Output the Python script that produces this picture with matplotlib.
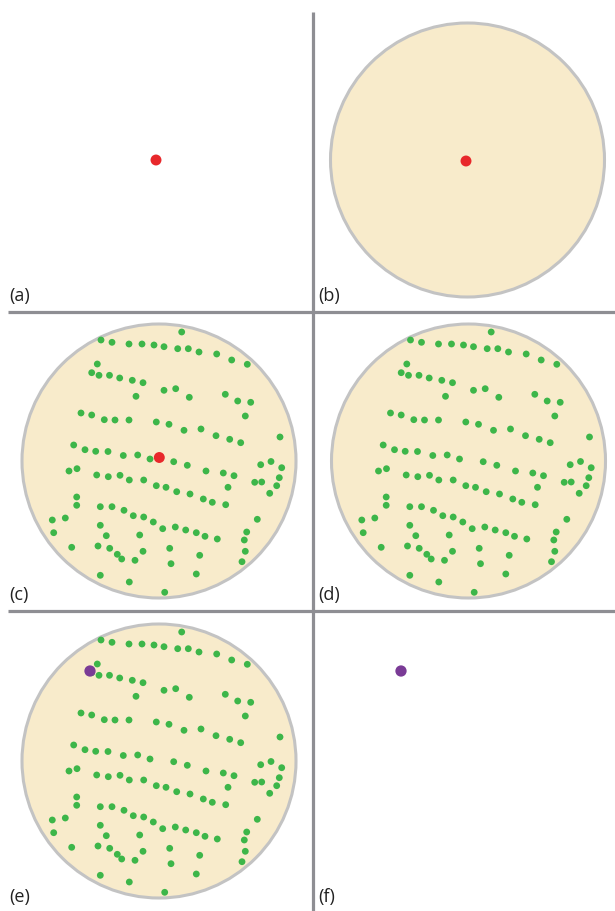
import matplotlib
matplotlib.use("Agg")
import matplotlib.pyplot as plt
from matplotlib.patches import Circle
import numpy as np

# ---- data: star field (offsets in px from the field-of-view centre, y downward) ----
star_dx = [-58, -47, -61.7, -67.3, -60, -49.5, -78, -67.3, -54.7, -44, -85.3, -74, -63.3, -51,
           22.7, -30, -17, -5, 5, 18.7, 29.3, 40, -39.3, -26.7, -16, 5, 16.7, 30.3, -23, -30,
           -2.7, 10, 25, 42, -35.7, -21.3, -9, 57.7, 72.7, 88.3, 66.3, 78.7, 91.7, 86.3, 57,
           70.7, 81.7, 121, 112, -90, -82, -62.3, -50.7, -82.3, -82.3, -58.7, -47, -106.7,
           -93.7, -105.3, -58.7, -52.7, -87.3, -61, -49.3, -58.7, 14.7, 28.3, 47, -39, -29.7,
           -15.3, -2.7, 7, 17.7, 31, 44.3, -35, -25.7, -15.3, -5.7, 3.7, 16.3, 26.7, 37.3, 46,
           -19.3, -41.7, -37.3, -24, -16, 10.7, 12, 40.7, 37.3, -29.7, 5.7, 64.3, 75, 69,
           101.7, 122.7, 120.3, 95.7, 102.7, 117.7, 110.7, 53.3, 66.7, 98.3, 58.3, 87.7, 85.3,
           86.3, 83]
star_dy = [-121, -118.7, -97, -88.3, -85.7, -85.7, -48, -46, -41.3, -41, -16, -11.3, -9.7, -9.5,
           -129, -117, -117, -116, -114.3, -112.3, -112.3, -109, -83, -80.7, -78.3, -70.7,
           -72.3, -63.7, -64.7, -41, -39, -36.7, -30.7, -32, -5.5, -6, -2, -107, -101, -96.7,
           -66.7, -60, -58.7, -45, -25.3, -21.7, -18.3, -24, 0.5, 10, 7.7, 14, 15.7, 36, 44.3,
           45.7, 45.7, 59, 57, 71.7, 64.3, 74.7, 86.3, 85, 87.3, 114.3, 0.7, 4.3, 10, 14.3, 19,
           19, 24.7, 26.3, 30.7, 33, 38, 49.3, 54.7, 56, 61, 67.7, 66, 69, 71.7, 75.3, 74,
           93.3, 98, 99.3, 90.3, 87.3, 102.7, 94.3, 113, 121, 131.3, 12, 14.7, 26.3, 3.7, 6.7,
           16.7, 21.3, 21, 24.7, 32.3, 41.3, 43.7, 58.3, 78, 71, 79, 90.3, 100.7]

# target star (red) and identified star (purple), image positions
red_x = [156, 466, 159.3]
red_y = [160, 161, 457.5]
purple_x = [90, 401]
purple_y = [671, 671]

panel_labels = ["(a)", "(b)", "(c)", "(d)", "(e)", "(f)"]

# ---- layout ----
W, H = 615, 911
fig = plt.figure(figsize=(W / 100, H / 100), dpi=100)
ax = fig.add_axes([0, 0, 1, 1])
ax.set_xlim(0, W)
ax.set_ylim(H, 0)
ax.axis("off")

fill_c = "#f8ebcb"
edge_c = "#c3c3c3"
green_c = "#3db649"
red_c = "#e8282b"
purple_c = "#7a3b96"
line_c = "#8e8e93"
R = 137

# field-of-view circles: (b), (c), (d), (e)
centres = [(467.5, 160), (159, 461), (468.5, 461), (159, 761)]
for cx, cy in centres:
    ax.add_patch(Circle((cx, cy), R, facecolor=fill_c, edgecolor=edge_c, lw=2.2, zorder=1))

sdx = np.array(star_dx)
sdy = np.array(star_dy)
for cx, cy in centres[1:]:
    ax.scatter(cx + sdx, cy + sdy, s=24, color=green_c, edgecolors="none", zorder=3)

ax.scatter(red_x, red_y, s=62, color=red_c, edgecolors="none", zorder=4)
ax.scatter(purple_x, purple_y, s=66, color=purple_c, edgecolors="none", zorder=4)

# separators
ax.plot([312.5, 312.5], [12, H], color=line_c, lw=2.3, solid_capstyle="butt", zorder=5)
ax.plot([8, W], [312, 312], color=line_c, lw=2.3, solid_capstyle="butt", zorder=5)
ax.plot([8, W], [611, 611], color=line_c, lw=2.3, solid_capstyle="butt", zorder=5)

label_x = [9, 318]
label_y = [296, 595, 897]
for i, lab in enumerate(panel_labels):
    ax.text(label_x[i % 2], label_y[i // 2], lab, fontsize=13, family="Open Sans",
            va="center", ha="left", color="#222222", zorder=6)

fig.savefig("out.png", dpi=100)
